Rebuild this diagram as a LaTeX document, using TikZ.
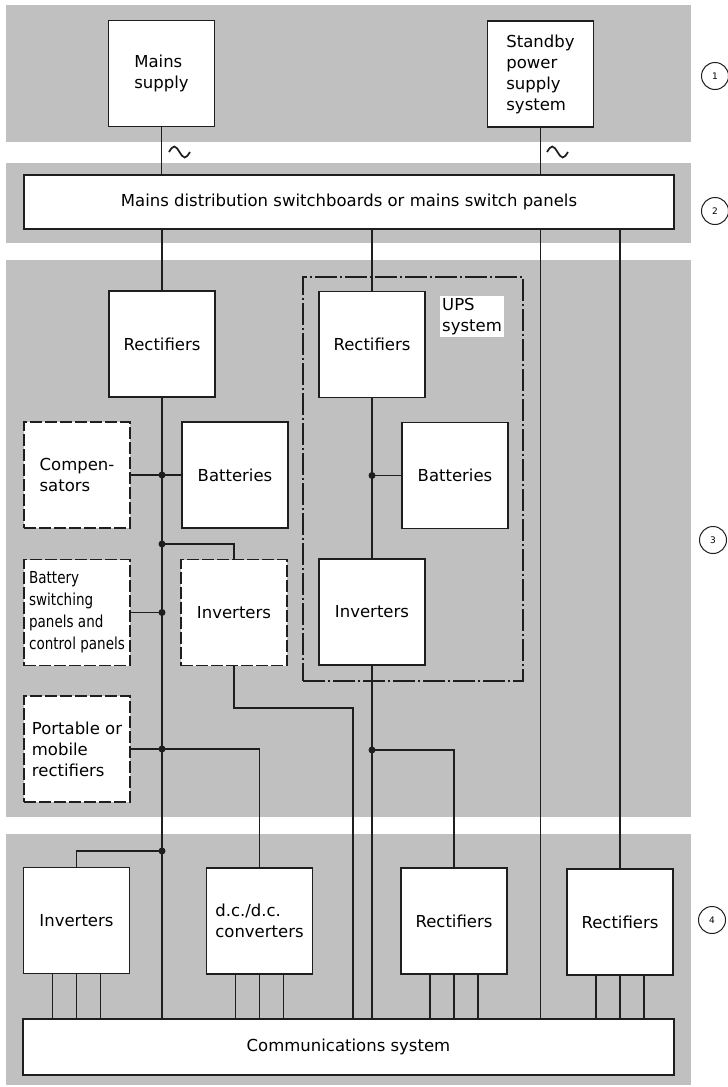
\documentclass[tikz,border=0pt]{standalone}
\usepackage{fontspec}
\setmainfont{DejaVu Sans}
\newfontfamily\narrowfont{DejaVu Sans}[FakeStretch=0.82]
\usetikzlibrary{calc}

\definecolor{band}{RGB}{192,192,192}
\definecolor{ink}{RGB}{30,30,30}

\begin{document}
\begin{tikzpicture}[x=1pt,y=-1pt,
  font=\fontsize{16.5}{21}\selectfont,
  box/.style={draw=ink, line width=1.8pt, fill=white, minimum width=106pt,
              minimum height=106pt, inner sep=2pt, align=left},
  optbox/.style={box, dash pattern=on 12pt off 3pt},
  wire/.style={draw=ink, line width=1.5pt},
  dot/.style={circle, fill=ink, inner sep=0pt, minimum size=7pt},
  tag/.style={circle, draw=ink, line width=1pt, minimum size=27pt,
              inner sep=0pt, font=\fontsize{9}{9}\selectfont},
  upsframe/.style={draw=ink, line width=2.5pt,
                   dash pattern=on 22pt off 3pt on 2pt off 3pt},
  tilde/.style={draw=ink, line width=1.7pt},
]
\useasboundingbox (0,0) rectangle (728,1087);

% zone bands
\fill[band] (6,5)   rectangle (691,142);
\fill[band] (6,163) rectangle (691,243);
\fill[band] (6,260) rectangle (691,817);
\fill[band] (6,834) rectangle (691,1085);

% zone numbers
\node[tag] (z1) at (715,76)  {1};
\node[tag] (z2) at (715,211) {2};
\node[tag] (z3) at (713,540) {3};
\node[tag] (z4) at (712,920) {4};

% UPS system outline
\node[upsframe, minimum width=220pt, minimum height=404pt, inner sep=0pt] (ups) at (413,479) {};
\node[fill=white, inner sep=2pt, align=left, anchor=north west] (upslabel) at (440,296) {UPS\\system};

% supplies and distribution
\node[box] (mains)   at (161.5,73.5) {Mains\\supply};
\node[box] (standby) at (540.5,74)   {Standby\\power\\supply\\system};
\node[box, minimum width=650pt, minimum height=54pt, align=center] (dist) at (349,202)
  {Mains distribution switchboards or mains switch panels};

% zone 3
\node[box]    (rect1) at (162,344)   {Rectifiers};
\node[optbox] (comp)  at (77,475)    {Compen-\\sators};
\node[box]    (bat1)  at (235,475)   {Batteries};
\node[optbox, font=\narrowfont\fontsize{16.5}{22}\selectfont] (bsw) at (77,612.5)
  {Battery\\switching\\panels and\\control panels};
\node[optbox] (inv1)  at (234,612.5)  {Inverters};
\node[optbox] (port)  at (77,749)    {Portable or\\mobile\\rectifiers};
\node[box]    (rect2) at (372,344.5) {Rectifiers};
\node[box]    (bat2)  at (455,475.5) {Batteries};
\node[box]    (inv2)  at (372,612)   {Inverters};

% zone 4
\node[box] (inv3)  at (76.5,920.5) {Inverters};
\node[box] (dcdc)  at (259.5,921)  {d.c./d.c.\\converters};
\node[box] (rect3) at (454,921)    {Rectifiers};
\node[box] (rect4) at (620,922)    {Rectifiers};
\node[box, minimum width=651pt, minimum height=56pt, align=center] (comm) at (348.5,1047)
  {Communications system};

% junction points
\coordinate (jinv) at (162,544);
\coordinate (kinv) at (353,708);
\coordinate (jbot) at (162,851);
\coordinate (jups) at (372,750);

% feeders into the distribution
\draw[wire] (mains.south) -- (mains.south |- dist.north);
\draw[wire] (standby.south) -- (standby.south |- dist.north);
\draw[tilde] (169,152) sin (174.25,146.5) cos (179.5,152) sin (184.75,157.5) cos (190,152);
\draw[tilde] (547,152) sin (552.25,146.5) cos (557.5,152) sin (562.75,157.5) cos (568,152);

% left d.c. bus
\draw[wire] (dist.south -| rect1.north) -- (rect1.north);
\draw[wire] (rect1.south) -- (rect1.south |- comm.north);
\draw[wire] (comp.east) -- (bat1.west);
\draw[wire] (jinv) -| (inv1.north);
\draw[wire] (bsw.east) -- (bsw.east -| rect1.south);
\draw[wire] (inv1.south) |- (kinv) -- (kinv |- comm.north);
\draw[wire] (port.east) -| (dcdc.north);
\draw[wire] (jbot) -| (inv3.north);

% UPS chain
\draw[wire] (dist.south -| rect2.north) -- (rect2.north);
\draw[wire] (rect2.south) -- (inv2.north);
\draw[wire] (bat2.west) -- (bat2.west -| rect2.south);
\draw[wire] (inv2.south) -- (inv2.south |- comm.north);
\draw[wire] (jups) -| (rect3.north);

% direct feeders
\draw[wire] (dist.south -| standby.south) -- (standby.south |- comm.north);
\draw[wire] (dist.south -| rect4.north) -- (rect4.north);

% outputs into the communications system
\foreach \n in {inv3,dcdc,rect3,rect4}
  \foreach \dx in {-24,0,24}
    \draw[wire] ([xshift=\dx pt]\n.south) -- ([xshift=\dx pt]\n.south |- comm.north);

% junction dots
\node[dot] (d1) at (rect1.south |- comp.east) {};
\node[dot] (d2) at (jinv) {};
\node[dot] (d3) at (rect1.south |- bsw.east) {};
\node[dot] (d4) at (rect1.south |- port.east) {};
\node[dot] (d5) at (jbot) {};
\node[dot] (d6) at (rect2.south |- bat2.west) {};
\node[dot] (d7) at (jups) {};
\end{tikzpicture}
\end{document}
